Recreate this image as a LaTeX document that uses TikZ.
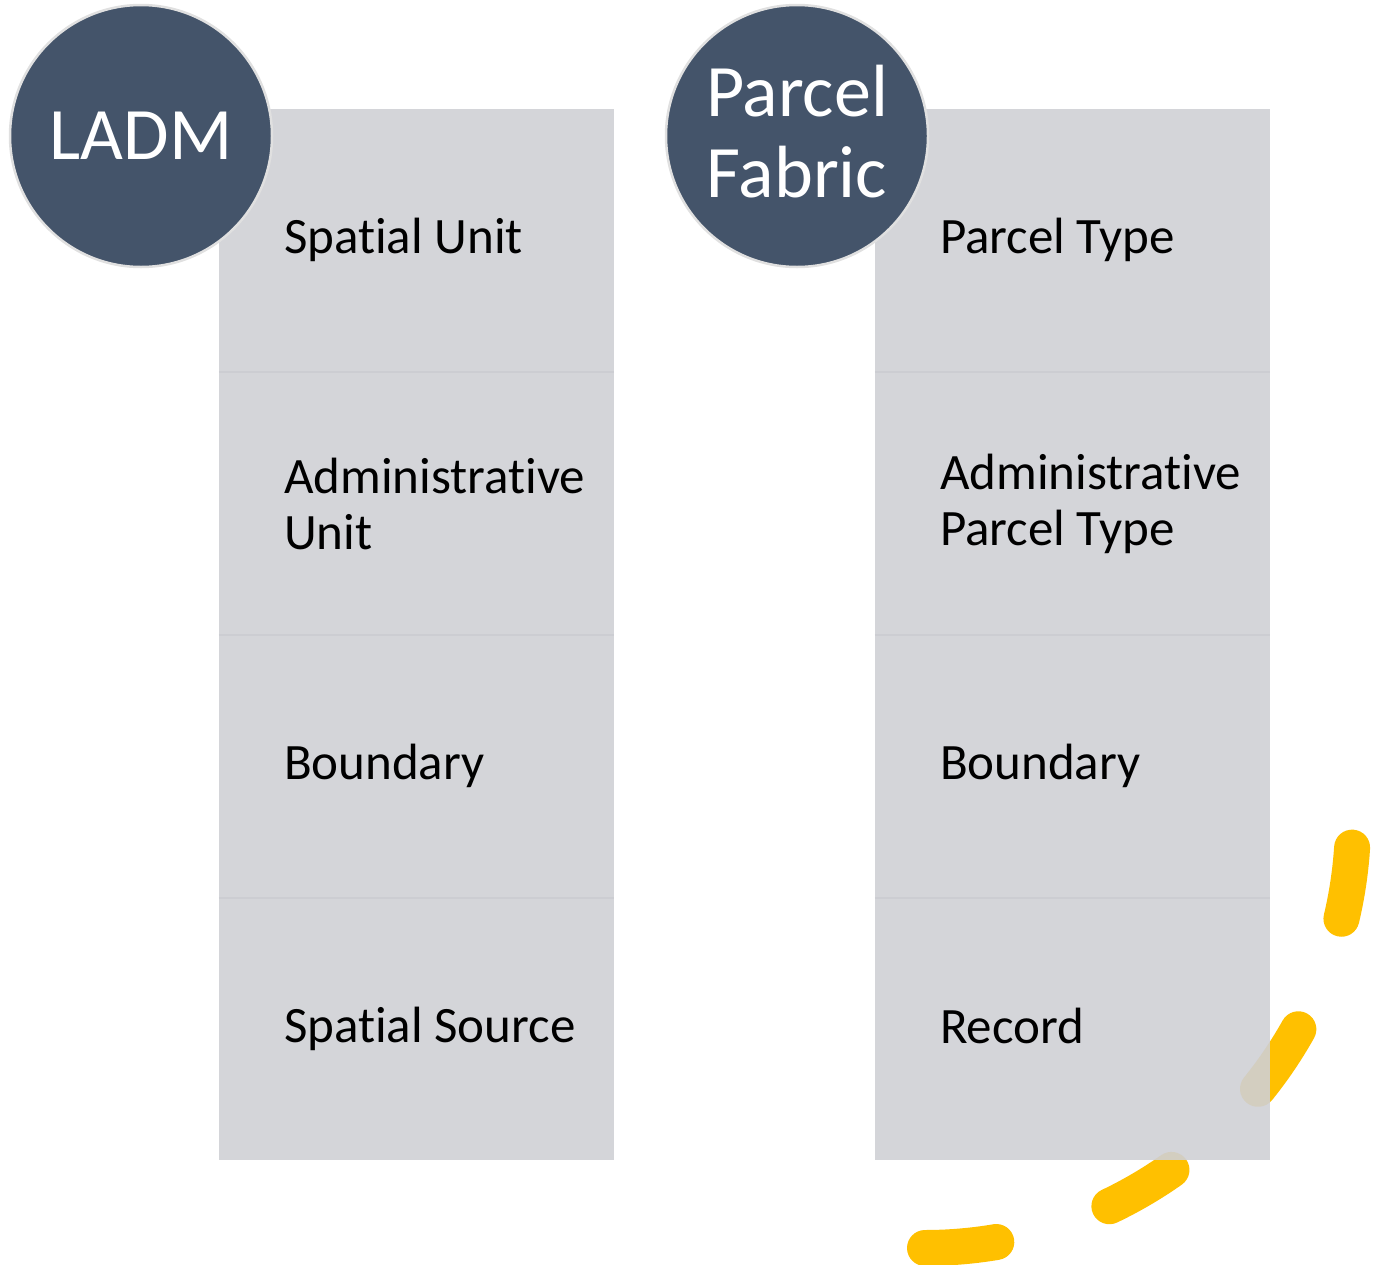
\documentclass[tikz,border=0pt]{standalone}
\usepackage{fontspec}
\setmainfont{Carlito}[Ligatures={NoCommon}]
\definecolor{cellgray}{RGB}{207,208,213}
\definecolor{sepgray}{RGB}{204,205,210}
\definecolor{circblue}{HTML}{44546A}
\definecolor{dashyellow}{HTML}{FFC000}
\begin{document}
\begin{tikzpicture}[x=1pt,y=-1pt,
  cell/.style={rectangle, fill=cellgray, fill opacity=0.9, draw=none, minimum width=395pt, minimum height=263pt, inner sep=0pt},
  sepline/.style={draw=sepgray, line width=2pt},
  lbl/.style={anchor=west, inner sep=0pt, align=left, text=black, font=\fontsize{51}{56}\selectfont},
  circ/.style={circle, fill=circblue, draw=black!12, line width=2.5pt, minimum size=262pt, inner sep=0pt, text=white, align=center, font=\fontsize{74}{81}\selectfont},
  arcdash/.style={draw=dashyellow, line width=36pt, line cap=round, dash pattern=on 72pt off 119pt}]
\useasboundingbox (0,0) rectangle (1383,1264);
% dashed yellow arc (drawn first, cells partially cover it)
\draw[arcdash] plot[domain=-3.7:-90, samples=90] ({925+428*cos(\x)},{820-428*sin(\x)});
% left column
\node[cell] (l1) at (416.5,240) {};
\node[cell] (l2) at (416.5,503.5) {};
\node[cell] (l3) at (416.5,766) {};
\node[cell] (l4) at (416.5,1028.5) {};
% right column
\node[cell] (r1) at (1072.5,240) {};
\node[cell] (r2) at (1072.5,503.5) {};
\node[cell] (r3) at (1072.5,766) {};
\node[cell] (r4) at (1072.5,1028.5) {};
% separators
\draw[sepline] (l1.south west) -- (l1.south east);
\draw[sepline] (l2.south west) -- (l2.south east);
\draw[sepline] (l3.south west) -- (l3.south east);
\draw[sepline] (r1.south west) -- (r1.south east);
\draw[sepline] (r2.south west) -- (r2.south east);
\draw[sepline] (r3.south west) -- (r3.south east);
% labels
\node[lbl] (tl1) at ([xshift=65pt]l1.west) {Spatial Unit};
\node[lbl] (tl2) at ([xshift=65pt]l2.west) {Administrative\\Unit};
\node[lbl] (tl3) at ([xshift=65pt]l3.west) {Boundary};
\node[lbl] (tl4) at ([xshift=65pt]l4.west) {Spatial Source};
\node[lbl] (tr1) at ([xshift=65pt]r1.west) {Parcel Type};
\node[lbl] (tr2) at ([xshift=65pt]r2.west) {Administrative\\Parcel Type};
\node[lbl] (tr3) at ([xshift=65pt]r3.west) {Boundary};
\node[lbl] (tr4) at ([xshift=65pt,yshift=3pt]r4.west) {Record};
% circles
\node[circ] (ladm) at (141,136) {LADM};
\node[circ] (pf) at (797,136) {};
\node[text=white, align=center, inner sep=0pt, font=\fontsize{74}{81}\selectfont] (pft) at ([yshift=4pt]pf.center) {Parcel\\Fabric};
\end{tikzpicture}
\end{document}
